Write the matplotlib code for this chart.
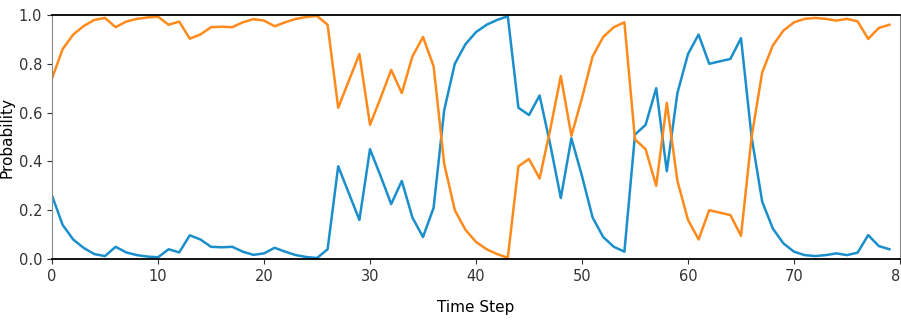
import numpy as np
from matplotlib import pyplot as plt

steps = np.arange(80)

# probability of state A (blue); state B (orange) is its complement
p_blue = [0.26, 0.14, 0.08, 0.045, 0.02, 0.012, 0.05, 0.027, 0.016, 0.01,
          0.007, 0.04, 0.027, 0.097, 0.08, 0.05, 0.048, 0.05, 0.03, 0.017,
          0.023, 0.046, 0.03, 0.016, 0.008, 0.004, 0.04, 0.38, 0.27, 0.16,
          0.45, 0.34, 0.225, 0.32, 0.17, 0.09, 0.21, 0.61, 0.80, 0.88,
          0.93, 0.96, 0.98, 0.995, 0.62, 0.59, 0.67, 0.47, 0.25, 0.495,
          0.34, 0.17, 0.09, 0.05, 0.03, 0.51, 0.55, 0.70, 0.36, 0.68,
          0.84, 0.92, 0.80, 0.81, 0.82, 0.905, 0.50, 0.235, 0.125, 0.064,
          0.03, 0.016, 0.012, 0.016, 0.023, 0.016, 0.026, 0.098, 0.053, 0.04]
p_orange = [1 - v for v in p_blue]

fig = plt.figure(figsize=(9.01, 3.31), dpi=100)
ax = fig.add_axes([52/901, 72/331, 848/901, 244/331])

ax.plot(steps, p_blue, color='#1a8fcc', lw=1.8)
ax.plot(steps, p_orange, color='#ff8a1c', lw=1.8)

ax.set_xlim(0, 80)
ax.set_ylim(0, 1.0)
ax.set_xticks(range(0, 81, 10))
ax.set_yticks(np.arange(0, 1.01, 0.2))
ax.tick_params(labelsize=10.5, colors='#333333')
ax.set_xlabel('Time Step', fontsize=11, labelpad=12)
ax.set_ylabel('Probability', fontsize=11, labelpad=3)
for s in ['left', 'right']:
    ax.spines[s].set_color('#888888')
ax.spines['top'].set_linewidth(1.3)
ax.spines['bottom'].set_linewidth(1.3)

plt.savefig('out.png', dpi=100)
